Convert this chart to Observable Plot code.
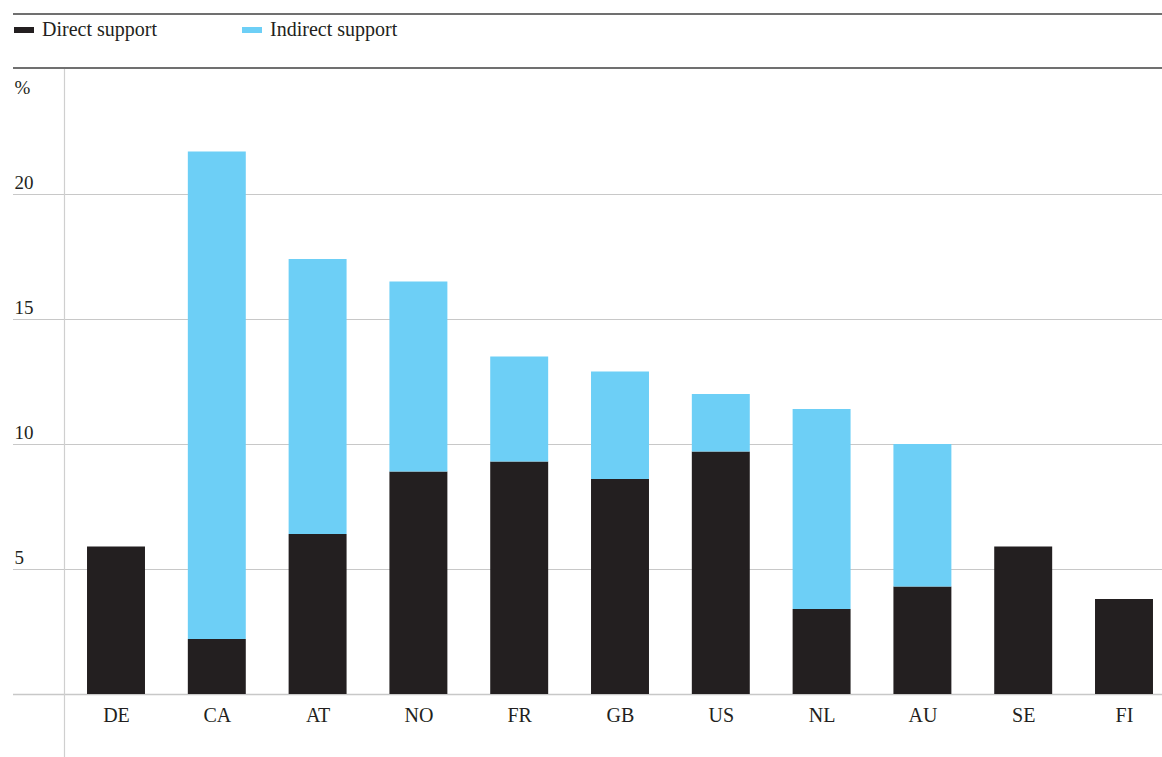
<!DOCTYPE html>
<html>
<head>
<meta charset="utf-8">
<script src="https://cdn.jsdelivr.net/npm/d3@7"></script>
<script src="https://cdn.jsdelivr.net/npm/@observablehq/plot@0.6"></script>
<style>
  html, body { margin: 0; padding: 0; background: #fff; }
  body { width: 1162px; height: 757px; overflow: hidden; font-family: "Liberation Serif", "Times New Roman", serif; }
  #legend { margin-left: 13px; margin-top: 13px; width: 1149px; height: 52px; border-top: 2px solid #707070; border-bottom: 2px solid #707070; position: relative; font-size: 20px; color: #231f20; }
  .item { position: absolute; top: 3px; display: flex; align-items: center; }
  .sw { width: 20px; height: 6px; margin-right: 8px; }
  svg { display: block; }
</style>
</head>
<body>
<div id="legend"></div>
<div id="chart"></div>
<script>
const countries = ["DE", "CA", "AT", "NO", "FR", "GB", "US", "NL", "AU", "SE", "FI"];
const direct   = [5.9, 2.2, 6.4, 8.9, 9.3, 8.6, 9.7, 3.4, 4.3, 5.9, 3.8];
const indirect = [0, 19.5, 11.0, 7.6, 4.2, 4.3, 2.3, 8.0, 5.7, 0, 0];
const seriesNames = ["Direct support", "Indirect support"];
const seriesColors = ["#231f20", "#6dcff6"];
const yTicks = [5, 10, 15, 20];

const legend = document.getElementById("legend");
const legendX = [0, 228];
seriesNames.forEach((name, i) => {
  const it = document.createElement("div");
  it.className = "item";
  it.style.left = (legendX[i] + 1) + "px";
  it.innerHTML = `<span class="sw" style="background:${seriesColors[i]}"></span><span>${name}</span>`;
  legend.appendChild(it);
});

const data = [];
countries.forEach((c, i) => {
  data.push({country: c, series: seriesNames[0], value: direct[i]});
  data.push({country: c, series: seriesNames[1], value: indirect[i]});
});

const chart = Plot.plot({
  width: 1162,
  height: 688,
  marginLeft: 64,
  marginRight: 0,
  marginTop: 0,
  marginBottom: 63,
  style: {fontFamily: '"Liberation Serif", "Times New Roman", serif', fontSize: "19px", color: "#231f20", background: "#fff"},
  x: {domain: countries, range: [65.6, 1174.4], paddingInner: 0.425, paddingOuter: 0.2125, round: false, label: null},
  y: {domain: [0, 25], label: null},
  color: {domain: seriesNames, range: seriesColors},
  marks: [
    Plot.ruleY(yTicks, {stroke: "#c8c8c8", strokeWidth: 1.2, insetLeft: -51}),
    Plot.ruleY([0], {stroke: "#c8c8c8", strokeWidth: 1.5, insetLeft: -51}),
    Plot.frame({anchor: "left", stroke: "#cfcfcf", strokeWidth: 1.2, insetBottom: -63}),
    Plot.text(yTicks, {y: d => d, text: d => String(d), frameAnchor: "left", dx: -50, dy: -12, textAnchor: "start", fill: "#231f20", fontSize: 19}),
    Plot.text(["%"], {frameAnchor: "top-left", dx: -50, dy: 11, textAnchor: "start", fill: "#231f20", fontSize: 19}),
    Plot.barY(data, {x: "country", y: "value", fill: "series", order: seriesNames}),
    Plot.axisX({tickSize: 0, tickPadding: 13, fontSize: 20, fill: "#231f20"}),
    Plot.axisY({ticks: [], tickSize: 0, label: null})
  ]
});
document.getElementById("chart").appendChild(chart);
</script>
</body>
</html>
